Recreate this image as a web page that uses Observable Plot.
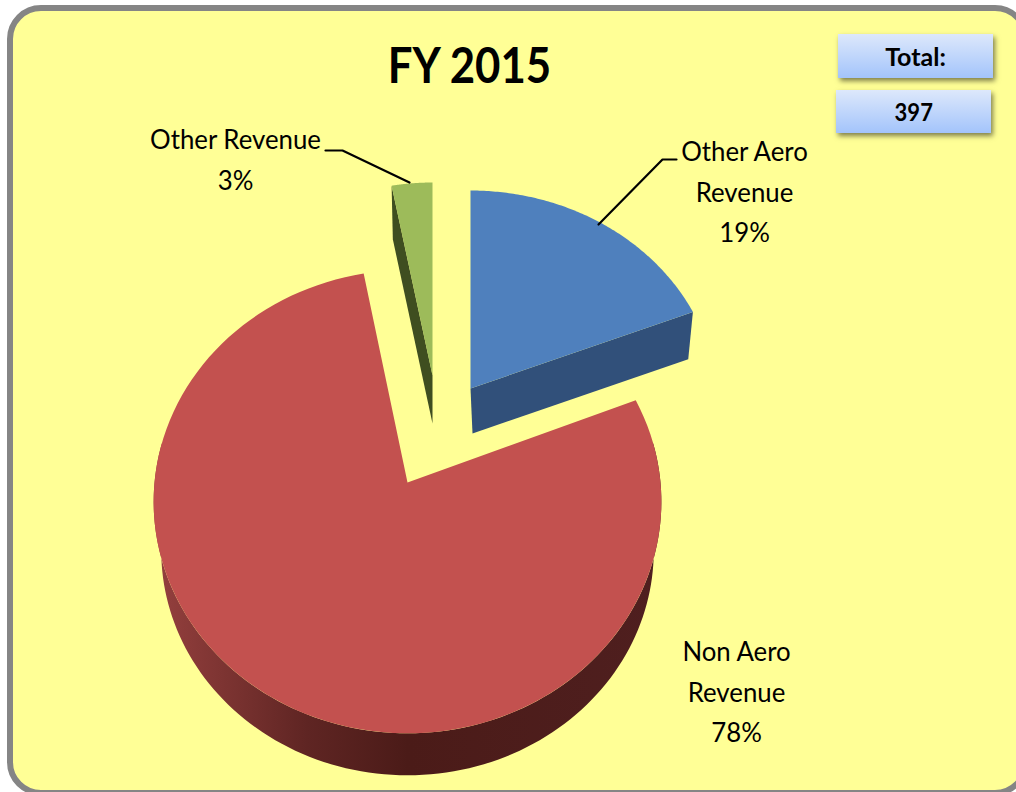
<!DOCTYPE html>
<html><head><meta charset="utf-8">
<script src="https://cdn.jsdelivr.net/npm/d3@7"></script>
<script src="https://cdn.jsdelivr.net/npm/@observablehq/plot@0.6"></script>
<style>
html,body{margin:0;padding:0;background:#fff;overflow:hidden;width:1016px;height:792px}
#frame{position:absolute;left:7px;top:5px;width:1022px;height:790.5px;box-sizing:border-box;border:6.5px solid #858585;border-radius:34px;background:#ffff96}
#chart{position:absolute;left:0;top:0}
.box{position:absolute;box-sizing:border-box;background:linear-gradient(#dde8fb,#a3c4fb);box-shadow:2px 3px 5px rgba(0,0,0,.5);font:700 25px Lato,sans-serif;color:#000;text-align:center}
.box span{display:inline-block}
</style></head><body>
<div id="frame"></div>
<div class="box" style="left:838px;top:34px;width:155px;height:44px;line-height:44px"><span>Total:</span></div>
<div class="box" style="left:836px;top:90px;width:155px;height:43px;line-height:43px"><span style="transform:scaleX(.88)">397</span></div>
<div id="chart"></div>
<script>
const categories = ["Other Aero Revenue","Non Aero Revenue","Other Revenue"];
const shares = [19,78,3];
const labelLines = [["Other Aero","Revenue","19%"],["Non Aero","Revenue","78%"],["Other Revenue","3%"]];
const titleText = "FY 2015";

// exploded, tilted pie layout: apex position, disc size and extrusion of each slice
const layout = [
  {ax:470,ay:388,A:246.5,B:214.4,depth:45,dx:2,top:"#4f80bd",side:"#31507a"},
  {ax:407,ay:482,A:253,B:230,depth:49.5,dx:0,top:"#c3514f",side:"url(#redWall)"},
  {ax:432,ay:375,A:236,B:209,depth:48,dx:0,top:"#9dbb5a",side:"#3f4e20"}
];
const k = 0.083, shrink = 0.97;
const total = d3.sum(shares);
let acc = 0;
const slices = shares.map((v,i)=>{const a0=acc/total*2*Math.PI; acc+=v; return {i,a0,a1:acc/total*2*Math.PI,...layout[i]};});
const proj = (s,t,low)=>{
  const u=Math.sin(t),v=Math.cos(t),w=1+k*v,f=low?shrink:1;
  return {x:s.ax+(low?s.dx:0)+f*s.A*u/w, y:s.ay+(low?s.depth:0)-f*s.B*v/w};
};
const arc=(s,t0,t1,low)=>d3.range(0,121).map(j=>proj(s,t0+(t1-t0)*j/120,low));
const apex=(s,low)=>({x:s.ax+(low?s.dx:0),y:s.ay+(low?s.depth:0)});

const faces = slices.map(s=>[apex(s),...arc(s,s.a0,s.a1)].map(p=>({...p,id:"f"+s.i})));
const blue=slices[0],red=slices[1],green=slices[2];
const deg=Math.PI/180;
const sides = [
  {s:blue,pts:[apex(blue),proj(blue,blue.a1),proj(blue,blue.a1,true),apex(blue,true)]},
  {s:green,pts:[apex(green),proj(green,green.a0),proj(green,green.a0,true),apex(green,true)]},
  {s:red,pts:[...arc(red,80*deg,280*deg),...arc(red,80*deg,280*deg,true).reverse()]}
];

const poly=(pts,fill)=>Plot.line(pts,{x:"x",y:"y",fill,stroke:"none",curve:"linear"});
const leaders=[
  [{x:325,y:150},{x:342,y:150},{x:409,y:182}],
  [{x:676,y:159},{x:662,y:159},{x:598,y:224}]
];
const labelPos=[{x:744,y:152},{x:736,y:652},{x:235,y:140}];
const lineGap=40.5;
const labels=labelLines.flatMap((ls,i)=>ls.map((t,j)=>({t,x:labelPos[i].x,y:labelPos[i].y+j*lineGap})));

const chart=Plot.plot({
  width:1016,height:792,margin:0,
  style:{background:"transparent",overflow:"visible"},
  x:{domain:[0,1016],range:[0,1016],axis:null},
  y:{domain:[0,792],range:[0,792],axis:null},
  marks:[
    ...sides.map(d=>poly(d.pts,d.s.side)),
    ...faces.map((f,i)=>poly(f,slices[i].top)),
    ...leaders.map(l=>Plot.line(l,{x:"x",y:"y",stroke:"#000",strokeWidth:2.2,curve:"linear"})),
    Plot.text(labels,{x:"x",y:"y",text:"t",fontFamily:"Lato, sans-serif",fontSize:27,fill:"#000",textAnchor:"middle",lineAnchor:"middle",className:"pie-label"}),
    Plot.text([titleText],{x:()=>469,y:()=>66,text:d=>d,fontFamily:"Lato, sans-serif",fontWeight:700,fontSize:50,fill:"#000",textAnchor:"middle",lineAnchor:"middle",className:"pie-title"})
  ]
});
const ns="http://www.w3.org/2000/svg";
const defs=document.createElementNS(ns,"defs");
defs.innerHTML=`<linearGradient id="redWall" gradientUnits="userSpaceOnUse" x1="155" x2="660" y1="0" y2="0">
<stop offset="0" stop-color="#95403e"/><stop offset=".3" stop-color="#5f2523"/><stop offset=".5" stop-color="#4b1b18"/><stop offset="1" stop-color="#4f1f1f"/></linearGradient>`;
chart.insertBefore(defs,chart.firstChild);
document.getElementById("chart").appendChild(chart);
const squeeze=(sel,f)=>chart.querySelectorAll(sel+" text").forEach(t=>{
  t.setAttribute("textLength",t.getComputedTextLength()*f);
  t.setAttribute("lengthAdjust","spacingAndGlyphs");
});
squeeze(".pie-label",0.955);
squeeze(".pie-title",0.875);
</script>
</body></html>
